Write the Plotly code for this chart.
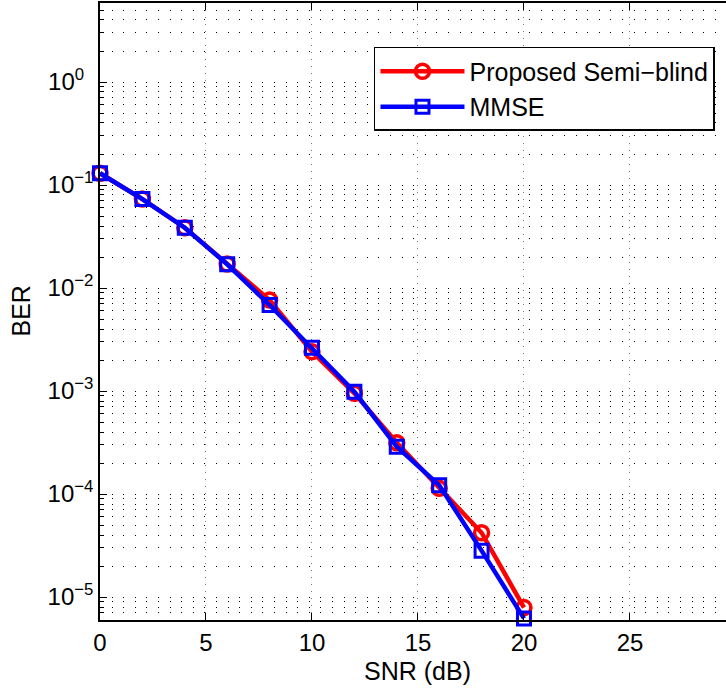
import plotly.graph_objects as go

snr = [0, 2, 4, 6, 8, 10, 12, 14, 16, 18, 20]
ber_semiblind = [0.130, 0.0731, 0.0385, 0.0171, 0.00764, 0.00241, 9.5e-4, 3.15e-4, 1.135e-4, 4.21e-5, 7.9e-6]
ber_mmse = [0.130, 0.0731, 0.0385, 0.0170, 0.00684, 0.00263, 9.85e-4, 2.88e-4, 1.22e-4, 2.82e-5, 6.2e-6]

x_ticks = [0, 5, 10, 15, 20, 25]
y_major = [1e-5, 1e-4, 1e-3, 1e-2, 1e-1, 1]
y_labels = ["10<sup>\u22125</sup>", "10<sup>\u22124</sup>", "10<sup>\u22123</sup>",
            "10<sup>\u22122</sup>", "10<sup>\u22121</sup>", "10<sup>0\u2007</sup>"]
y_minor = [m * 10.0 ** e for e in range(-6, 1) for m in range(2, 10)]

FONT = "Liberation Sans, Arial, Helvetica, sans-serif"
FS = 24
FS_BIG = 25

fig = go.Figure()
fig.add_trace(go.Scatter(
    x=snr, y=ber_semiblind, name="Proposed Semi\u2212blind",
    mode="lines+markers", cliponaxis=False,
    line=dict(color="#ff0000", width=4.5),
    marker=dict(symbol="circle-open", size=14, color="#ff0000", line=dict(width=3.5, color="#ff0000")),
))
fig.add_trace(go.Scatter(
    x=snr, y=ber_mmse, name="MMSE",
    mode="lines+markers", cliponaxis=False,
    line=dict(color="#0000ff", width=4.5),
    marker=dict(symbol="square-open", size=13, color="#0000ff", line=dict(width=3, color="#0000ff")),
))

fig.update_layout(
    width=726, height=689,
    margin=dict(l=100, r=0, t=3, b=69, autoexpand=False),
    paper_bgcolor="white", plot_bgcolor="white",
    font=dict(family=FONT, size=FS, color="black"),
    showlegend=True,
    legend=dict(
        x=0.9824, xanchor="right", y=0.9287, yanchor="top",
        bgcolor="white", bordercolor="black", borderwidth=1.5,
        font=dict(family=FONT, size=FS_BIG, color="black"),
        itemwidth=84, tracegroupgap=0,
    ),
    xaxis=dict(
        range=[0, 29.53], tickmode="array", tickvals=x_ticks,
        ticks="inside", ticklen=7, tickwidth=1, tickcolor="black",
        showline=True, linecolor="black", linewidth=1.5, mirror="ticks",
        showgrid=True, gridcolor="#777777", gridwidth=1, griddash="1px,6px",
        zeroline=False, tickfont=dict(family=FONT, size=FS, color="black"),
        automargin=False,
    ),
    yaxis=dict(
        type="log", range=[-5.223, 0.767],
        tickmode="array", tickvals=y_major, ticktext=y_labels,
        ticks="inside", ticklen=7, tickwidth=1, tickcolor="black",
        showline=True, linecolor="black", linewidth=1.5, mirror=False,
        showgrid=True, gridcolor="black", gridwidth=1, griddash="1px,10.6px",
        zeroline=False, tickfont=dict(family=FONT, size=FS, color="black"),
        automargin=False,
        minor=dict(tickmode="array", tickvals=y_minor, ticks="inside", ticklen=4,
                   tickcolor="black", showgrid=True, gridcolor="black", gridwidth=1,
                   griddash="1px,10.6px"),
    ),
    annotations=[
        dict(text="SNR (dB)", x=15, xref="x", y=0, yref="paper", xanchor="center",
             yanchor="middle", yshift=-51, showarrow=False,
             font=dict(family=FONT, size=FS_BIG, color="black")),
        dict(text="BER", x=0, xref="paper", y=0.5, yref="paper", xanchor="center",
             yanchor="middle", xshift=-80, textangle=-90, showarrow=False,
             font=dict(family=FONT, size=FS_BIG, color="black")),
    ],
)

fig.write_html("out.html")
